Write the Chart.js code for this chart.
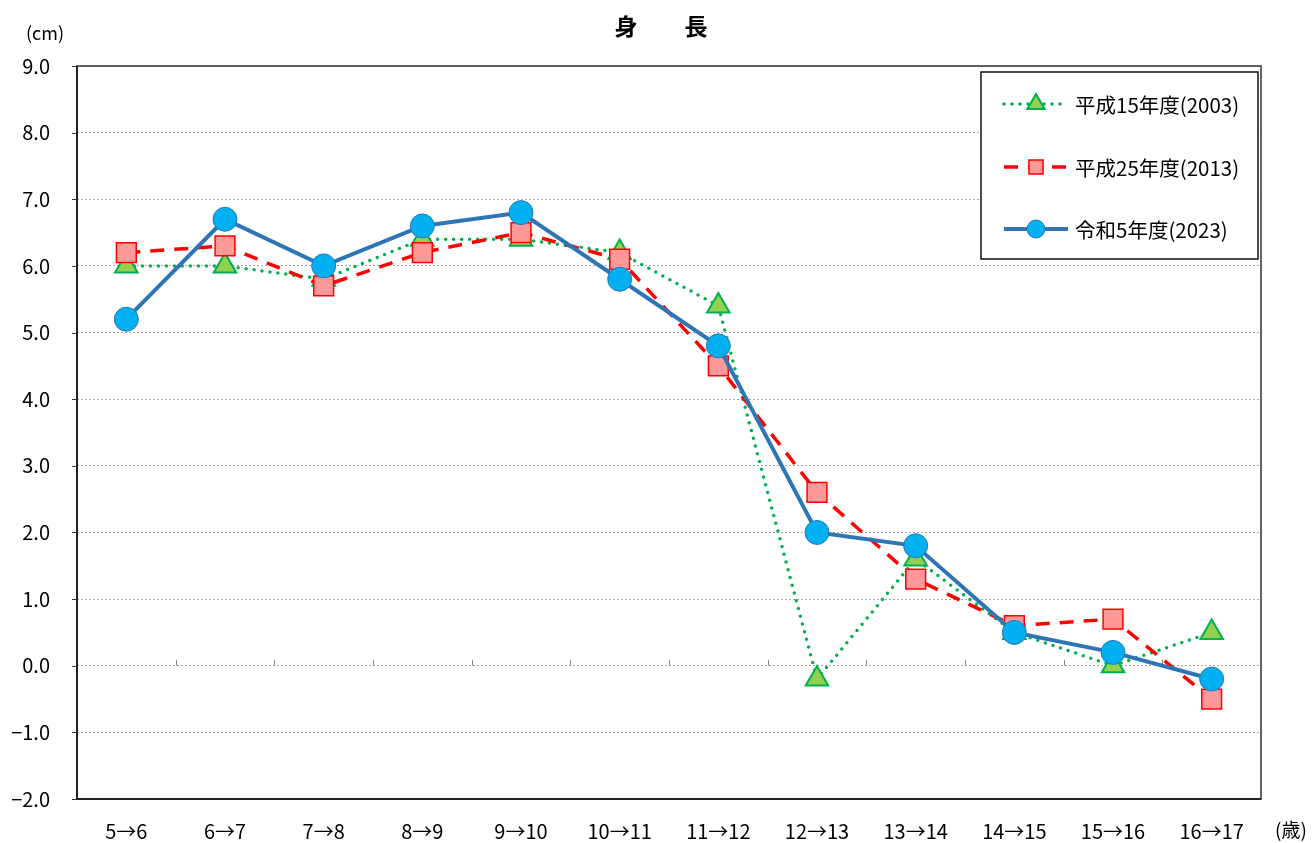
<!DOCTYPE html>
<html lang="ja">
<head>
<meta charset="UTF-8">
<title>身長</title>
<style>
    body { margin: 0; background: #fff; }
    #wrap { width: 1314px; height: 843px; }
</style>
<script src="https://cdn.jsdelivr.net/npm/chart.js"></script>
</head>
<body>
<div id="wrap"><canvas id="heightChart" width="1314" height="843"></canvas></div>
<script>
    // 年間発育量 (cm)
    const categories = ['5→6', '6→7', '7→8', '8→9', '9→10', '10→11', '11→12', '12→13', '13→14', '14→15', '15→16', '16→17'];
    const h15 = [6.0, 6.0, 5.8, 6.4, 6.4, 6.2, 5.4, -0.2, 1.6, 0.5, 0.0, 0.5];
    const h25 = [6.2, 6.3, 5.7, 6.2, 6.5, 6.1, 4.5, 2.6, 1.3, 0.6, 0.7, -0.5];
    const r5 = [5.2, 6.7, 6.0, 6.6, 6.8, 5.8, 4.8, 2.0, 1.8, 0.5, 0.2, -0.2];
    const seriesNames = ['平成15年度(2003)', '平成25年度(2013)', '令和5年度(2023)'];
    const yMin = -2, yMax = 9;

    const FONT = '"Noto Sans CJK JP", "Liberation Sans", sans-serif';

    const frame = {
        id: 'frame',
        beforeDatasetsDraw(chart) {
            const { ctx, chartArea: a, scales: { x, y } } = chart;
            ctx.save();
            // plot border
            ctx.strokeStyle = '#333';
            ctx.lineWidth = 1.5;
            ctx.strokeRect(a.left, a.top, a.right - a.left, a.bottom - a.top);
            // axis lines
            ctx.strokeStyle = '#222';
            ctx.lineWidth = 2;
            ctx.beginPath();
            ctx.moveTo(a.left, a.top);
            ctx.lineTo(a.left, a.bottom);
            ctx.lineTo(a.right, a.bottom);
            ctx.stroke();
            // y tick marks
            ctx.lineWidth = 1;
            ctx.strokeStyle = '#333';
            for (let v = yMin; v <= yMax; v++) {
                const py = Math.round(y.getPixelForValue(v)) + 0.5;
                ctx.beginPath();
                ctx.moveTo(a.left - 5, py);
                ctx.lineTo(a.left, py);
                ctx.stroke();
            }
            // category ticks on the zero line
            const y0 = y.getPixelForValue(0);
            ctx.strokeStyle = '#888';
            for (let i = 0; i < categories.length - 1; i++) {
                const px = Math.round((x.getPixelForValue(i) + x.getPixelForValue(i + 1)) / 2) + 0.5;
                ctx.beginPath();
                ctx.moveTo(px, y0 - 6);
                ctx.lineTo(px, y0);
                ctx.stroke();
            }
            ctx.restore();
        },
        afterDraw(chart) {
            const { ctx } = chart;
            ctx.save();
            ctx.fillStyle = '#000';
            ctx.textBaseline = 'middle';
            ctx.textAlign = 'center';
            ctx.font = 'bold 23px ' + FONT;
            ctx.fillText('身', 626, 26);
            ctx.fillText('長', 696, 26);
            ctx.font = '18px ' + FONT;
            ctx.fillText('(cm)', 45, 33);
            ctx.font = '19px ' + FONT;
            ctx.fillText('(歳)', 1291, 830);

            // legend
            const bx = 981, by = 72, bw = 277, bh = 187;
            ctx.fillStyle = '#fff';
            ctx.fillRect(bx, by, bw, bh);
            ctx.strokeStyle = '#111';
            ctx.lineWidth = 1.5;
            ctx.strokeRect(bx, by, bw, bh);
            const rows = [104, 167, 229];
            const sizes = [10, 10, 9];
            chart.data.datasets.forEach((ds, i) => {
                const yy = rows[i];
                ctx.save();
                ctx.strokeStyle = ds.borderColor;
                ctx.lineWidth = ds.borderWidth;
                ctx.lineCap = ds.borderCapStyle || 'butt';
                ctx.setLineDash(ds.borderDash || []);
                ctx.beginPath();
                ctx.moveTo(1004, yy);
                ctx.lineTo(1068, yy);
                ctx.stroke();
                ctx.restore();
                ctx.save();
                ctx.fillStyle = ds.pointBackgroundColor;
                ctx.strokeStyle = ds.pointBorderColor;
                ctx.lineWidth = ds.pointBorderWidth;
                Chart.helpers.drawPoint(ctx, { pointStyle: ds.pointStyle, radius: sizes[i], rotation: 0, borderWidth: ds.pointBorderWidth }, 1036, yy);
                ctx.restore();
                ctx.fillStyle = '#000';
                ctx.textAlign = 'left';
                ctx.font = '20.5px ' + FONT;
                ctx.fillText(seriesNames[i], 1075, yy + 1);
            });
            ctx.restore();
        }
    };

    const ctx = document.getElementById('heightChart').getContext('2d');
    new Chart(ctx, {
        type: 'line',
        data: {
            labels: categories,
            datasets: [
                {
                    label: seriesNames[0],
                    data: h15,
                    order: 3,
                    borderColor: '#00B050',
                    borderWidth: 3.5,
                    borderDash: [0, 8],
                    borderCapStyle: 'round',
                    pointStyle: 'triangle',
                    pointRadius: 13,
                    pointBackgroundColor: '#92D050',
                    pointBorderColor: '#00B050',
                    pointBorderWidth: 2
                },
                {
                    label: seriesNames[1],
                    data: h25,
                    order: 2,
                    borderColor: '#FF0000',
                    borderWidth: 3.5,
                    borderDash: [14, 10],
                    pointStyle: 'rect',
                    pointRadius: 14,
                    pointBackgroundColor: '#FF9999',
                    pointBorderColor: '#FF0000',
                    pointBorderWidth: 1.5
                },
                {
                    label: seriesNames[2],
                    data: r5,
                    order: 1,
                    borderColor: '#2E75B6',
                    borderWidth: 4,
                    pointStyle: 'circle',
                    pointRadius: 12,
                    pointBackgroundColor: '#00B0F0',
                    pointBorderColor: '#2E75B6',
                    pointBorderWidth: 1
                }
            ]
        },
        options: {
            responsive: false,
            animation: false,
            layout: { padding: { top: 66, right: 53, left: 0, bottom: 0 } },
            plugins: {
                legend: { display: false },
                tooltip: { enabled: false },
                title: { display: false }
            },
            scales: {
                x: {
                    offset: true,
                    grid: { display: false, drawTicks: false },
                    border: { display: false },
                    ticks: { color: '#000', padding: 20, font: { family: FONT, size: 20 }, maxRotation: 0, autoSkip: false },
                    afterFit(s) { s.height = 44; }
                },
                y: {
                    min: yMin,
                    max: yMax,
                    grid: { color: '#A6A6A6', lineWidth: 1, drawTicks: false },
                    border: { display: false, dash: [2, 2] },
                    ticks: {
                        stepSize: 1,
                        color: '#000',
                        padding: 27,
                        font: { family: FONT, size: 20 },
                        callback: v => (v < 0 ? '\u2212' : '') + Math.abs(v).toFixed(1)
                    },
                    afterFit(s) { s.width = 77; }
                }
            }
        },
        plugins: [frame]
    });
</script>
</body>
</html>
